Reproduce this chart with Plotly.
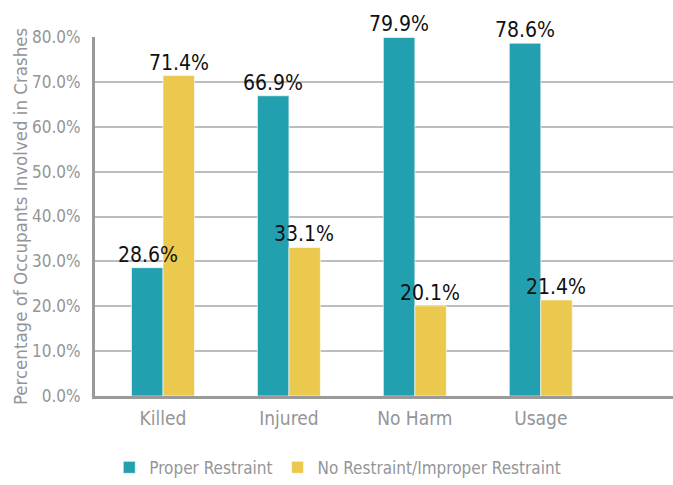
import plotly.graph_objects as go

categories = ["Killed", "Injured", "No Harm", "Usage"]
proper_restraint = [28.6, 66.9, 79.9, 78.6]
no_improper_restraint = [71.4, 33.1, 20.1, 21.4]
y_ticks = [0, 10, 20, 30, 40, 50, 60, 70, 80]
y_tick_labels = [f"{v:.1f}%" for v in y_ticks]

FONT = "DejaVu Sans Condensed, Liberation Sans Narrow, sans-serif"
TEAL = "#22A0B0"
YELLOW = "#EBC94F"
GRAY = "#939598"

series = [
    ("Proper Restraint", proper_restraint, TEAL, -15.5),
    ("No Restraint/Improper Restraint", no_improper_restraint, YELLOW, 15.5),
]

fig = go.Figure()
for name, vals, color, _ in series:
    fig.add_trace(go.Bar(
        x=categories, y=vals, name=name,
        marker=dict(color=color, line=dict(color="white", width=0.6)),
    ))

# value labels above each bar, drawn on top of all bars
for name, vals, color, shift in series:
    for cat, v in zip(categories, vals):
        fig.add_annotation(
            x=cat, y=v, xref="x", yref="y", text=f"{v:.1f}%",
            showarrow=False, xanchor="center", yanchor="bottom",
            xshift=shift, yshift=-1,
            font=dict(family=FONT, size=21, color="#111111"),
        )

fig.update_layout(
    width=673, height=485,
    margin=dict(l=95, r=0, t=37, b=89, autoexpand=False),
    paper_bgcolor="white", plot_bgcolor="white",
    barmode="group", bargap=0.5, bargroupgap=0,
    font=dict(family=FONT, color=GRAY),
    showlegend=True,
    legend=dict(orientation="h", x=0.42, xanchor="center", y=-0.2, yanchor="middle",
                font=dict(family=FONT, size=17, color=GRAY),
                itemwidth=30, traceorder="normal"),
    xaxis=dict(
        range=[-0.54, 4.05], showline=True, linecolor="#9A9A9A", linewidth=3,
        tickfont=dict(family=FONT, size=19, color=GRAY), ticks="", showgrid=False,
        zeroline=False, ticklabelstandoff=3,
    ),
    yaxis=dict(
        range=[0, 80], tickvals=y_ticks, ticktext=y_tick_labels,
        tickfont=dict(family=FONT, size=17, color=GRAY),
        showline=True, linecolor="#9A9A9A", linewidth=3,
        showgrid=True, gridcolor="#BDBDBD", gridwidth=1.5,
        zeroline=False, ticks="", ticklabelstandoff=8,
        title=dict(text="Percentage of Occupants Involved in Crashes",
                   font=dict(family=FONT, size=18.5, color=GRAY), standoff=0),
    ),
)

fig.write_html("out.html")
